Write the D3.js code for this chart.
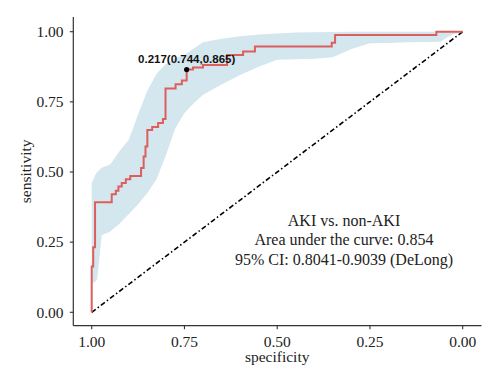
<!DOCTYPE html>
<html>
<head>
<meta charset="utf-8">
<script src="https://cdn.jsdelivr.net/npm/d3@7"></script>
<style>
  body { margin: 0; background: #fff; }
  svg text { font-family: "Liberation Serif", "DejaVu Serif", serif; }
</style>
</head>
<body>
<div class="main"></div>
<script>
// ROC curve (step corners), specificity vs sensitivity
let rocSpec = [1, 0.996, 0.991, 0.946, 0.935, 0.928, 0.919, 0.908, 0.896, 0.867,
               0.860, 0.855, 0.850, 0.837, 0.821, 0.808, 0.801, 0.774, 0.757, 0.744,
               0.727, 0.700, 0.635, 0.592, 0.560, 0.353, 0.344, 0.071, 0];
let rocSens = [0, 0.163, 0.232, 0.392, 0.421, 0.433, 0.448, 0.461, 0.474, 0.486,
               0.514, 0.555, 0.591, 0.650, 0.660, 0.675, 0.689, 0.798, 0.813, 0.826,
               0.865, 0.872, 0.881, 0.917, 0.929, 0.947, 0.961, 0.988, 1];

// confidence band of sensitivity
let ciSpec  = [1, 0.99, 0.985, 0.973, 0.95, 0.925, 0.9, 0.875, 0.85, 0.825,
               0.8, 0.775, 0.75, 0.725, 0.7, 0.65, 0.6, 0.55, 0.5, 0.45,
               0.4, 0.35, 0.3, 0.25, 0.2, 0.15, 0.1, 0.06, 0.04, 0.02, 0];
let ciLower = [0.103, 0.11, 0.12, 0.275, 0.288, 0.316, 0.35, 0.385, 0.425, 0.475,
               0.56, 0.655, 0.71, 0.745, 0.775, 0.812, 0.846, 0.875, 0.9, 0.902,
               0.904, 0.909, 0.938, 0.959, 0.96, 0.962, 0.963, 0.964, 0.982, 0.993, 1];
let ciUpper = [0.46, 0.49, 0.5, 0.515, 0.527, 0.574, 0.615, 0.705, 0.79, 0.85,
               0.885, 0.905, 0.917, 0.94, 0.962, 0.975, 0.984, 0.99, 0.994, 0.997,
               0.998, 0.999, 1, 1, 1, 1, 1, 1, 1, 1, 1];

// best threshold
let best = { threshold: 0.217, spec: 0.744, sens: 0.865 };

let ticks = [1, 0.75, 0.5, 0.25, 0];
let infoLines = ["AKI vs. non-AKI",
                 "Area under the curve: 0.854",
                 "95% CI: 0.8041-0.9039 (DeLong)"];

let width = 500, height = 388;
let svg = d3.select("div.main").append("svg")
    .attr("width", width)
    .attr("height", height);

// panel edges
let panelL = 73.3, panelR = 481.5, panelT = 17, panelB = 325.7;

let x = d3.scaleLinear().domain([1, 0]).range([91.7, 462.7]);
let y = d3.scaleLinear().domain([0, 1]).range([312.3, 31.7]);

// CI band
let idx = d3.range(ciSpec.length);
svg.append("path")
    .datum(idx)
    .attr("fill", "#d4e6ee")
    .attr("d", d3.area()
        .x(i => x(ciSpec[i]))
        .y0(i => y(ciLower[i]))
        .y1(i => y(ciUpper[i])));

// chance line
svg.append("line")
    .attr("x1", x(1)).attr("y1", y(0))
    .attr("x2", x(0)).attr("y2", y(1))
    .attr("stroke", "#000")
    .attr("stroke-width", 1.6)
    .attr("stroke-dasharray", "5,2.5,1.5,2.5");

// ROC curve
svg.append("path")
    .datum(d3.range(rocSpec.length))
    .attr("fill", "none")
    .attr("stroke", "#dc5f5e")
    .attr("stroke-width", 2)
    .attr("d", d3.line()
        .curve(d3.curveStepBefore)
        .x(i => x(rocSpec[i]))
        .y(i => y(rocSens[i])));

// best point + label
svg.append("circle")
    .attr("cx", x(best.spec)).attr("cy", y(best.sens))
    .attr("r", 2.6).attr("fill", "#000");
svg.append("text")
    .attr("x", x(best.spec)).attr("y", y(best.sens) - 7)
    .attr("text-anchor", "middle")
    .style("font-family", "'Liberation Sans', Arial, sans-serif")
    .style("font-weight", "bold")
    .style("font-size", "11.5px")
    .attr("fill", "#111")
    .text(best.threshold.toFixed(3) + "(" + best.spec.toFixed(3) + "," + best.sens.toFixed(3) + ")");

// axes
let axisColor = "#333";
svg.append("line")
    .attr("x1", panelL).attr("x2", panelL).attr("y1", panelT).attr("y2", panelB)
    .attr("stroke", axisColor).attr("stroke-width", 1.2);
svg.append("line")
    .attr("x1", panelL).attr("x2", panelR).attr("y1", panelB).attr("y2", panelB)
    .attr("stroke", axisColor).attr("stroke-width", 1.2);

ticks.forEach(function(t) {
    svg.append("line")
        .attr("x1", x(t)).attr("x2", x(t)).attr("y1", panelB).attr("y2", panelB + 3.5)
        .attr("stroke", axisColor).attr("stroke-width", 1.1);
    svg.append("text")
        .attr("x", x(t)).attr("y", 346.5)
        .attr("text-anchor", "middle")
        .style("font-size", "15.5px")
        .attr("fill", "#222")
        .text(t.toFixed(2));

    svg.append("line")
        .attr("x1", panelL - 3.5).attr("x2", panelL).attr("y1", y(t)).attr("y2", y(t))
        .attr("stroke", axisColor).attr("stroke-width", 1.1);
    svg.append("text")
        .attr("x", 63.5).attr("y", y(t) + 5.3)
        .attr("text-anchor", "end")
        .style("font-size", "15.5px")
        .attr("fill", "#222")
        .text(t.toFixed(2));
});

// axis titles
svg.append("text")
    .attr("x", (x(1) + x(0)) / 2).attr("y", 362)
    .attr("text-anchor", "middle")
    .style("font-size", "15.5px")
    .attr("fill", "#222")
    .text("specificity");
svg.append("text")
    .attr("transform", "translate(31," + (panelT + panelB) / 2 + ") rotate(-90)")
    .attr("text-anchor", "middle")
    .style("font-size", "15.5px")
    .attr("fill", "#222")
    .text("sensitivity");

// AUC text
infoLines.forEach(function(s, i) {
    svg.append("text")
        .attr("x", 344).attr("y", 225.5 + i * 19.6)
        .attr("text-anchor", "middle")
        .style("font-size", "16px")
        .attr("fill", "#222")
        .text(s);
});
</script>
</body>
</html>
